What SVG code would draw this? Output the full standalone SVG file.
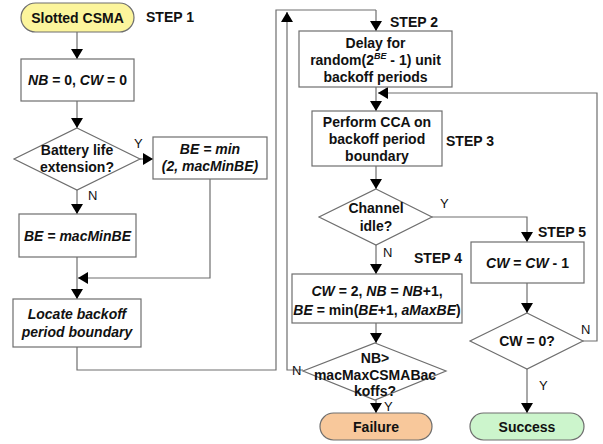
<svg xmlns="http://www.w3.org/2000/svg" width="603" height="444" viewBox="0 0 603 444">
<defs>
<marker id="ah" markerWidth="10" markerHeight="12" refX="10" refY="6" orient="auto" markerUnits="userSpaceOnUse">
<path d="M0,0 L10,6 L0,12 Z" fill="#000"/>
</marker>
<style>
.box{fill:#fff;stroke:#6e6e6e;stroke-width:1.2}
.t{font-family:"Liberation Sans",Arial,sans-serif;font-size:14px;font-weight:bold;fill:#111;text-anchor:middle}
.l{font-family:"Liberation Sans",Arial,sans-serif;font-size:13px;fill:#111}
.s{font-family:"Liberation Sans",Arial,sans-serif;font-size:14px;font-weight:bold;fill:#111}
.c{fill:none;stroke:#6e6e6e;stroke-width:1.2}
.a{fill:none;stroke:#6e6e6e;stroke-width:1.2;marker-end:url(#ah)}
</style>
</defs>
<rect width="603" height="444" fill="#fff"/>
<g id="connectors">
<path class="a" d="M77,32 V59"/>
<path class="a" d="M77,101 V128"/>
<path class="a" d="M140,159 H153"/>
<path class="a" d="M77,190 V214"/>
<path class="a" d="M210,179 V278 H78"/>
<path class="a" d="M77,257 V299"/>
<path class="c" d="M77,347 V370 H276 V10 H376"/>
<path class="a" d="M376,10 V31"/>
<path class="a" d="M376,87 V111"/>
<path class="a" d="M376,166 V189"/>
<path class="a" d="M376,245 V274"/>
<path class="a" d="M376,323 V343"/>
<path class="a" d="M376,400 V413"/>
<path class="a" d="M303,370 H287 V12"/>
<path class="a" d="M432,217 H527 V242"/>
<path class="a" d="M527,283 V313"/>
<path class="a" d="M527,369 V413"/>
<path class="a" d="M583,341 H597 V93 H378"/>
</g>
<g id="start">
<rect x="21" y="3" width="113" height="29" rx="14.5" fill="#fcf59c" stroke="#6e6e6e" stroke-width="1.2"/>
<text class="t" x="77.5" y="22.5">Slotted CSMA</text>
</g>
<text class="s" x="146" y="22">STEP 1</text>
<g id="init">
<rect class="box" x="21" y="59" width="113" height="42"/>
<text class="t" x="77.5" y="85"><tspan font-style="italic">NB</tspan> = 0, <tspan font-style="italic">CW</tspan> = 0</text>
</g>
<g id="battery">
<polygon class="box" points="77,128 140,159 77,190 14,159"/>
<text class="t" x="77" y="155">Battery life</text>
<text class="t" x="77" y="172">extension?</text>
</g>
<text class="l" x="134" y="148">Y</text>
<text class="l" x="88" y="200">N</text>
<g id="bemin">
<rect class="box" x="153" y="137" width="114" height="42"/>
<text class="t" x="210" y="154" font-style="italic">BE = min</text>
<text class="t" x="210" y="171" font-style="italic">(2, macMinBE)</text>
</g>
<g id="bemac">
<rect class="box" x="19" y="214" width="117" height="43"/>
<text class="t" x="77.5" y="241" font-style="italic">BE = macMinBE</text>
</g>
<g id="locate">
<rect class="box" x="13" y="299" width="128" height="48"/>
<text class="t" x="77" y="319" font-style="italic">Locate backoff</text>
<text class="t" x="77" y="337" font-style="italic">period boundary</text>
</g>
<g id="delay">
<rect class="box" x="299" y="31" width="153" height="56"/>
<text class="t" x="375.5" y="48">Delay for</text>
<text class="t" x="375.5" y="65">random(2<tspan font-size="9" font-style="italic" dy="-6">BE</tspan><tspan dy="6"> - 1) unit</tspan></text>
<text class="t" x="375.5" y="82">backoff periods</text>
</g>
<text class="s" x="390" y="27">STEP 2</text>
<g id="cca">
<rect class="box" x="312" y="111" width="130" height="55"/>
<text class="t" x="377" y="127">Perform CCA on</text>
<text class="t" x="377" y="144">backoff period</text>
<text class="t" x="377" y="161">boundary</text>
</g>
<text class="s" x="446" y="146">STEP 3</text>
<g id="idle">
<polygon class="box" points="376,189 432,217 376,245 319,217"/>
<text class="t" x="376" y="213">Channel</text>
<text class="t" x="376" y="231">idle?</text>
</g>
<text class="l" x="440" y="208">Y</text>
<text class="l" x="383" y="257">N</text>
<text class="s" x="414" y="263">STEP 4</text>
<text class="s" x="538" y="237">STEP 5</text>
<g id="step4">
<rect class="box" x="292" y="274" width="170" height="49"/>
<text class="t" x="377" y="296"><tspan font-style="italic">CW</tspan> = 2, <tspan font-style="italic">NB</tspan> = <tspan font-style="italic">NB</tspan>+1,</text>
<text class="t" x="377" y="315"><tspan font-style="italic">BE</tspan> = min(<tspan font-style="italic">BE</tspan>+1, <tspan font-style="italic">aMaxBE</tspan>)</text>
</g>
<g id="cwdec">
<rect class="box" x="471" y="242" width="113" height="41"/>
<text class="t" x="527.5" y="268"><tspan font-style="italic">CW</tspan> = <tspan font-style="italic">CW</tspan> - 1</text>
</g>
<g id="nbmax">
<polygon class="box" points="375,343 446,371 375,400 303,371"/>
<text class="t" x="375" y="363">NB&gt;</text>
<text class="t" x="375" y="380">macMaxCSMABac</text>
<text class="t" x="375" y="396">koffs?</text>
</g>
<text class="l" x="292" y="375">N</text>
<text class="l" x="384" y="411">Y</text>
<g id="cwzero">
<polygon class="box" points="527,313 583,341 527,369 470,341"/>
<text class="t" x="527" y="346">CW = 0?</text>
</g>
<text class="l" x="581" y="334">N</text>
<text class="l" x="539" y="390">Y</text>
<g id="failure">
<rect x="320" y="413" width="112" height="27" rx="13.5" fill="#f8c89b" stroke="#6e6e6e" stroke-width="1.2"/>
<text class="t" x="376" y="432">Failure</text>
</g>
<g id="success">
<rect x="470" y="413" width="114" height="27" rx="13.5" fill="#ccf5cc" stroke="#6e6e6e" stroke-width="1.2"/>
<text class="t" x="527" y="431.5" font-weight="normal" font-size="13">Success</text>
</g>
</svg>
